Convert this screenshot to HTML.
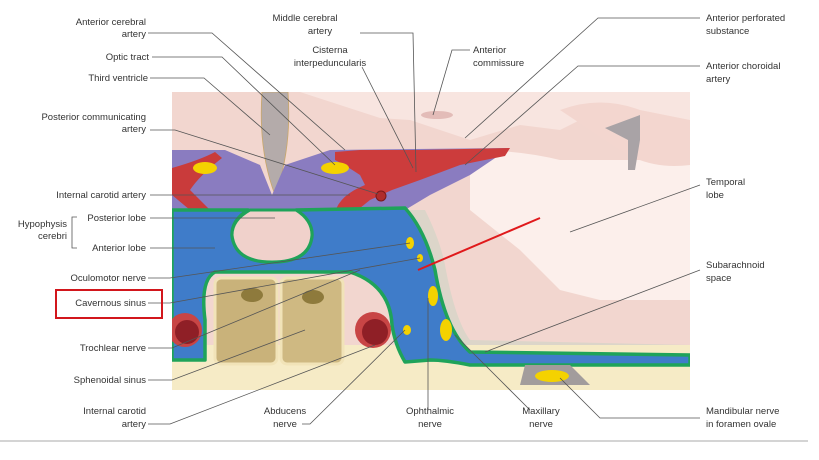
<!DOCTYPE html>
<html><head><meta charset="utf-8"><style>
html,body{margin:0;padding:0;background:#fff;width:819px;height:460px;overflow:hidden}
svg{display:block}
text{font-family:"Liberation Sans",sans-serif;font-size:9.5px;fill:#333}
</style></head><body>
<svg width="819" height="460" viewBox="0 0 819 460">
<defs>
<clipPath id="c"><rect x="172" y="92" width="518" height="298"/></clipPath>
</defs>
<g clip-path="url(#c)">
<rect x="172" y="92" width="518" height="298" fill="#f2d6cf"/>
<path d="M300 92 L690 92 L690 150 L660 165 L640 130 L600 110 L560 130 L520 125 L470 140 L440 130 L410 120 L380 118 Z" fill="#f8e5e0"/>
<path d="M470 150 Q520 150 560 160 L690 160 L690 300 L600 300 L560 290 L520 250 L470 210 Z" fill="#fcefeb"/>
<path d="M560 110 Q600 95 640 110 L690 120 L690 165 Q650 170 620 150 Q590 130 560 110Z" fill="#f3d6cf"/>
<path d="M605 128 L640 115 L640 140 L635 170 L628 170 L628 140 Z" fill="#a9a3a6"/>
<ellipse cx="437" cy="115" rx="16" ry="4" fill="#e3bcb8"/>
<path d="M262 92 L288 92 Q292 150 275 195 Q258 150 262 92Z" fill="#b4abaa" stroke="#c9a76a" stroke-width="0.8"/>
<path d="M172 150 L225 150 L260 165 L272 195 L285 165 L330 150 L510 148 L470 175 L430 195 L405 210 L172 212 Z" fill="#8a7cc0"/>
<path d="M172 168 Q200 160 215 152 L222 158 Q200 175 190 190 L210 210 L190 210 L172 195Z" fill="#c93b3b"/>
<path d="M335 152 L360 150 L420 150 L510 148 L505 156 L460 165 L420 180 L392 190 L370 200 L355 212 L335 212 Q340 195 365 185 L360 175 Q345 165 335 160Z" fill="#cc3c3c"/>
<circle cx="381" cy="196" r="5" fill="#b02c2c" stroke="#7a1a1a" stroke-width="1"/>
<ellipse cx="205" cy="168" rx="12" ry="6" fill="#f4d200"/>
<ellipse cx="335" cy="168" rx="14" ry="6" fill="#f4d200"/>
<path d="M410 210 L425 210 Q440 240 445 265 Q455 320 470 340 L690 345 L690 358 L460 358 Q440 330 432 280 Q420 235 410 210Z" fill="#dcd5c9"/>
<rect x="172" y="345" width="518" height="45" fill="#f6ebc6"/>
<path d="M172 210 L248 210 Q232 220 232 235 Q235 262 272 262 Q310 262 312 235 Q312 220 296 210 L405 208 Q425 230 435 270 Q445 330 470 352 L690 355 L690 365 L470 365 Q445 360 430 360 L405 362 Q395 345 392 325 Q390 285 350 272 L215 272 Q200 280 205 320 L205 360 L172 360 Z" fill="#3f7cc9" stroke="#1fa35a" stroke-width="3.5" stroke-linejoin="round"/>
<path d="M250 210 Q232 220 232 235 Q235 262 272 262 Q310 262 312 235 Q312 220 296 210 Z" fill="#f0d1cb" stroke="#1fa35a" stroke-width="3"/>
<rect x="215" y="278" width="62" height="86" rx="6" fill="#c9b27a" stroke="#f1e3b8" stroke-width="3"/>
<rect x="281" y="278" width="62" height="86" rx="6" fill="#cfb982" stroke="#f1e3b8" stroke-width="3"/>
<ellipse cx="252" cy="295" rx="11" ry="7" fill="#8e7a3c"/>
<ellipse cx="313" cy="297" rx="11" ry="7" fill="#8e7a3c"/>
<circle cx="185" cy="330" r="17" fill="#c84545"/><circle cx="187" cy="332" r="12" fill="#8f1f26"/>
<circle cx="373" cy="330" r="18" fill="#c84545"/><circle cx="375" cy="332" r="13" fill="#8f1f26"/>
<ellipse cx="410" cy="243" rx="4" ry="6" fill="#f4d200"/>
<ellipse cx="420" cy="258" rx="3" ry="4" fill="#f4d200"/>
<ellipse cx="433" cy="296" rx="5" ry="10" fill="#f4d200"/>
<ellipse cx="446" cy="330" rx="6" ry="11" fill="#f4d200"/>
<ellipse cx="407" cy="330" rx="4" ry="5" fill="#f4d200"/>
<path d="M525 365 L570 365 L590 385 L520 385Z" fill="#a29c9c"/>
<ellipse cx="552" cy="376" rx="17" ry="6" fill="#f4d200"/>
</g>
<line x1="540" y1="218" x2="418" y2="270" stroke="#e0191b" stroke-width="2"/>
<g stroke="#555" stroke-width="0.8" fill="none">
<path d="M148 33 L212 33 L345 150"/>
<path d="M152 57 L222 57 L335 165"/>
<path d="M150 78 L204 78 L270 135"/>
<path d="M150 130 L175 130 L378 194"/>
<path d="M150 195 L350 195"/>
<path d="M150 218 L275 218"/>
<path d="M150 248 L215 248"/>
<path d="M148 278 L170 278 L410 243"/>
<path d="M148 303 L170 303 L420 258"/>
<path d="M148 348 L172 348 L360 270"/>
<path d="M148 380 L172 380 L305 330"/>
<path d="M148 424 L170 424 L375 345"/>
<path d="M302 424 L310 424 L405 330"/>
<path d="M428 410 L428 298"/>
<path d="M530 410 L455 335"/>
<path d="M700 418 L600 418 L560 378"/>
<path d="M360 33 L413 33 L416 172"/>
<path d="M362 67 L413 168"/>
<path d="M470 50 L452 50 L433 115"/>
<path d="M700 18 L598 18 L465 138"/>
<path d="M700 66 L578 66 L465 165"/>
<path d="M700 185 L570 232"/>
<path d="M700 270 L485 352"/>
<path d="M77 217 L72 217 L72 248 L77 248"/>
</g>
<rect x="56" y="290" width="106" height="28" fill="none" stroke="#d2161c" stroke-width="2"/>
<g text-anchor="end">
<text x="146" y="25">Anterior cerebral</text><text x="146" y="37">artery</text>
<text x="149" y="60">Optic tract</text>
<text x="148" y="81">Third ventricle</text>
<text x="146" y="120">Posterior communicating</text><text x="146" y="132">artery</text>
<text x="146" y="198">Internal carotid artery</text>
<text x="146" y="221">Posterior lobe</text>
<text x="146" y="251">Anterior lobe</text>
<text x="146" y="281">Oculomotor nerve</text>
<text x="146" y="306">Cavernous sinus</text>
<text x="146" y="351">Trochlear nerve</text>
<text x="146" y="383">Sphenoidal sinus</text>
<text x="146" y="414">Internal carotid</text><text x="146" y="427">artery</text>
<text x="67" y="227">Hypophysis</text><text x="67" y="239">cerebri</text>
</g>
<g text-anchor="middle">
<text x="305" y="21">Middle cerebral</text><text x="320" y="34">artery</text>
<text x="330" y="53">Cisterna</text><text x="330" y="66">interpeduncularis</text>
<text x="285" y="414">Abducens</text><text x="285" y="427">nerve</text>
<text x="430" y="414">Ophthalmic</text><text x="430" y="427">nerve</text>
<text x="541" y="414">Maxillary</text><text x="541" y="427">nerve</text>
</g>
<text x="473" y="53">Anterior</text><text x="473" y="66">commissure</text>
<text x="706" y="21">Anterior perforated</text><text x="706" y="34">substance</text>
<text x="706" y="69">Anterior choroidal</text><text x="706" y="82">artery</text>
<text x="706" y="185">Temporal</text><text x="706" y="198">lobe</text>
<text x="706" y="268">Subarachnoid</text><text x="706" y="281">space</text>
<text x="706" y="414">Mandibular nerve</text><text x="706" y="427">in foramen ovale</text>
<line x1="0" y1="441" x2="808" y2="441" stroke="#aaa" stroke-width="1"/>
</svg>
</body></html>
